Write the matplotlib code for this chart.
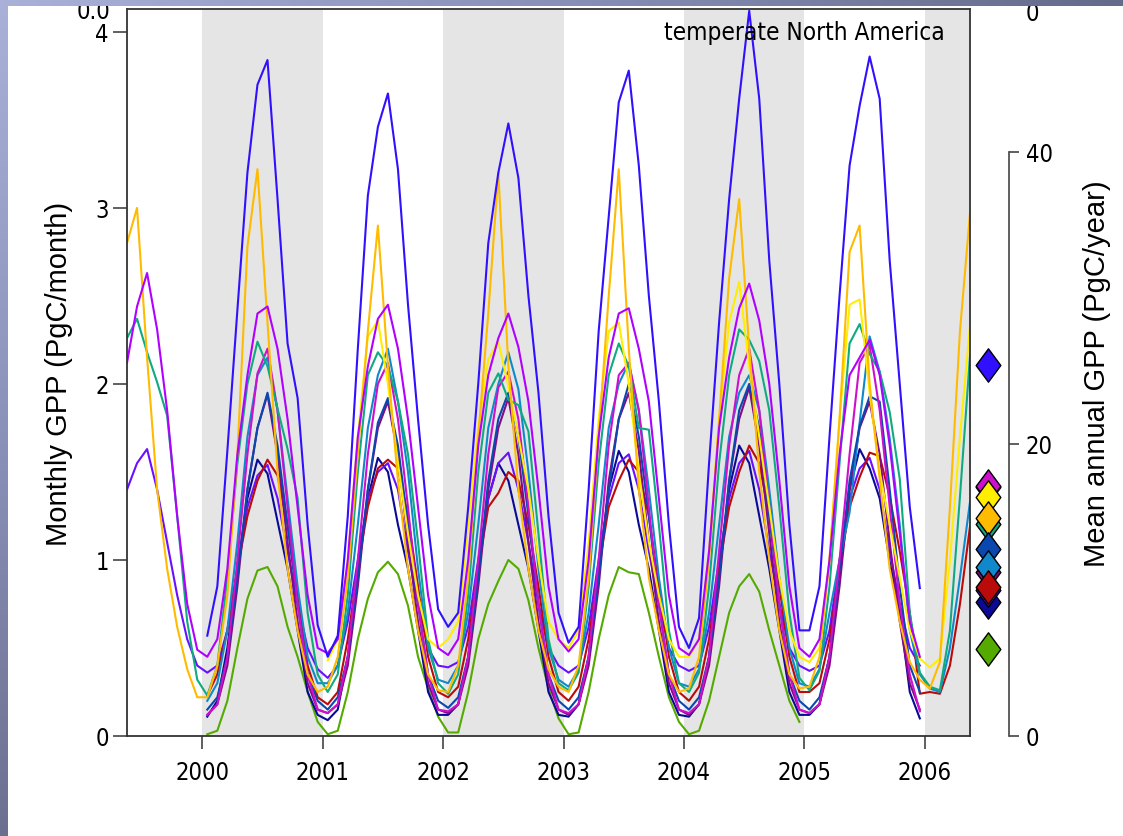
import numpy as np
import matplotlib
matplotlib.use("Agg")
import matplotlib.pyplot as plt
from matplotlib import font_manager
from matplotlib.font_manager import FontProperties
from matplotlib.path import Path

plt.rcParams['font.family'] = ['Liberation Sans', 'DejaVu Sans']

# narrow font for ticks, first one that is installed
narrow_file = None
for key in ['liberationsansnarrow-regular', 'notosans-condensed.ttf',
            'notosans-semicondensed.ttf', 'dejavusanscondensed.ttf']:
    for f in font_manager.fontManager.ttflist:
        if f.fname.lower().replace('_', '').endswith(key) or key in f.fname.lower():
            narrow_file = f.fname
            break
    if narrow_file:
        break
NARROW_SIZE = 17 if (narrow_file and 'dejavu' in narrow_file.lower()) else 19


def tfont(size):
    if narrow_file:
        return FontProperties(fname=narrow_file, size=size)
    return FontProperties(family=['Liberation Sans', 'DejaVu Sans'], size=size - 3)


NA8 = [None] * 8     # May-Dec 1999
NA12 = [None] * 12
NA5 = [None] * 5     # Jan-May 2006

# monthly GPP (PgC/month), May 1999 .. May 2006
blue = (NA8
        + [0.57, 0.85, 1.62, 2.42, 3.20, 3.70, 3.84, 3.05, 2.23, 1.92, 1.20, 0.63]
        + [0.45, 0.57, 1.25, 2.20, 3.07, 3.46, 3.65, 3.22, 2.45, 1.80, 1.20, 0.72]
        + [0.62, 0.70, 1.30, 2.00, 2.80, 3.20, 3.48, 3.17, 2.50, 1.95, 1.25, 0.70]
        + [0.53, 0.62, 1.40, 2.30, 2.95, 3.60, 3.78, 3.24, 2.50, 1.90, 1.20, 0.62]
        + [0.50, 0.67, 1.55, 2.35, 3.05, 3.62, 4.12, 3.62, 2.70, 2.00, 1.20, 0.60]
        + [0.60, 0.85, 1.70, 2.50, 3.24, 3.58, 3.86, 3.62, 2.70, 2.00, 1.30, 0.84]
        + NA5)
violet = ([2.12, 2.44, 2.63, 2.31, 1.85, 1.25, 0.75, 0.49]
          + [0.45, 0.55, 0.95, 1.60, 2.05, 2.40, 2.44, 2.20, 1.80, 1.30, 0.80, 0.50]
          + [0.47, 0.55, 1.00, 1.70, 2.10, 2.37, 2.45, 2.20, 1.80, 1.30, 0.80, 0.50]
          + [0.46, 0.55, 1.00, 1.65, 2.05, 2.26, 2.40, 2.21, 1.90, 1.40, 0.85, 0.55]
          + [0.48, 0.55, 1.00, 1.70, 2.15, 2.40, 2.43, 2.20, 1.90, 1.35, 0.80, 0.50]
          + [0.46, 0.55, 1.05, 1.75, 2.15, 2.43, 2.57, 2.36, 2.00, 1.45, 0.85, 0.50]
          + [0.45, 0.55, 1.00, 1.60, 2.05, 2.15, 2.25, 2.05, 1.65, 1.15, 0.65, 0.45]
          + NA5)
blueviolet = ([1.40, 1.55, 1.63, 1.40, 1.10, 0.80, 0.55, 0.40]
              + [0.36, 0.40, 0.60, 0.95, 1.30, 1.48, 1.54, 1.35, 1.05, 0.75, 0.50, 0.38]
              + [0.33, 0.40, 0.65, 1.00, 1.35, 1.50, 1.55, 1.40, 1.05, 0.75, 0.50, 0.40]
              + [0.39, 0.42, 0.62, 1.00, 1.35, 1.55, 1.61, 1.40, 1.10, 0.75, 0.50, 0.40]
              + [0.36, 0.40, 0.62, 1.00, 1.35, 1.55, 1.60, 1.40, 1.05, 0.75, 0.50, 0.40]
              + [0.37, 0.40, 0.62, 1.00, 1.35, 1.55, 1.62, 1.40, 1.05, 0.75, 0.50, 0.40]
              + [0.37, 0.40, 0.60, 1.00, 1.35, 1.52, 1.58, 1.40, 1.05, 0.75, 0.50, 0.40]
              + NA5)
orange = ([2.80, 3.00, 2.15, 1.40, 0.95, 0.62, 0.38, 0.22]
          + [0.22, 0.40, 0.80, 1.60, 2.78, 3.22, 2.35, 1.50, 0.95, 0.60, 0.35, 0.25]
          + [0.28, 0.45, 0.90, 1.60, 2.30, 2.90, 2.10, 1.45, 0.95, 0.60, 0.35, 0.26]
          + [0.25, 0.40, 0.90, 1.70, 2.40, 3.20, 2.10, 1.40, 0.95, 0.60, 0.38, 0.28]
          + [0.25, 0.40, 0.90, 1.70, 2.50, 3.22, 2.20, 1.40, 0.90, 0.60, 0.35, 0.25]
          + [0.27, 0.45, 1.00, 1.80, 2.60, 3.05, 2.20, 1.50, 1.00, 0.60, 0.35, 0.27]
          + [0.28, 0.45, 1.00, 1.80, 2.75, 2.90, 2.00, 1.46, 0.95, 0.65, 0.42, 0.32]
          + [0.27, 0.42, 1.30, 2.30, 2.97])
teal = ([2.26, 2.37, 2.18, 2.01, 1.82, 1.25, 0.65, 0.32]
        + [0.23, 0.40, 0.90, 1.55, 2.00, 2.24, 2.10, 1.86, 1.63, 1.35, 0.70, 0.35]
        + [0.25, 0.35, 0.80, 1.50, 2.05, 2.18, 2.10, 1.90, 1.60, 1.10, 0.55, 0.30]
        + [0.24, 0.35, 0.80, 1.50, 1.95, 2.06, 1.91, 1.88, 1.73, 1.15, 0.55, 0.30]
        + [0.26, 0.36, 0.85, 1.55, 2.05, 2.23, 2.10, 1.75, 1.74, 1.20, 0.60, 0.30]
        + [0.25, 0.36, 0.85, 1.55, 2.05, 2.31, 2.25, 2.13, 1.85, 1.30, 0.70, 0.33]
        + [0.26, 0.37, 0.85, 1.55, 2.23, 2.34, 2.17, 2.07, 1.84, 1.46, 0.70, 0.36]
        + [0.28, 0.26, 0.60, 1.36, 2.16])
yellow = (NA8 + NA12
          + [0.43, 0.55, 1.00, 1.70, 2.27, 2.36, 2.00, 1.55, 1.15, 0.80, 0.55, 0.50]
          + [0.55, 0.65, 1.20, 1.75, 2.14, 2.24, 1.99, 1.70, 1.40, 1.00, 0.65, 0.55]
          + [0.50, 0.60, 1.10, 1.80, 2.30, 2.35, 2.00, 1.50, 1.10, 0.80, 0.55, 0.45]
          + [0.45, 0.55, 1.05, 1.80, 2.35, 2.58, 2.10, 1.70, 1.30, 0.90, 0.60, 0.45]
          + [0.42, 0.50, 1.00, 1.80, 2.45, 2.48, 1.95, 1.50, 1.20, 0.90, 0.60, 0.44]
          + [0.39, 0.44, 1.00, 1.70, 2.33])
lightblue = (NA8
             + [0.20, 0.30, 0.60, 1.10, 1.70, 2.05, 2.15, 1.85, 1.35, 0.85, 0.45, 0.30]
             + [0.30, 0.40, 0.70, 1.20, 1.75, 2.05, 2.20, 1.90, 1.50, 0.95, 0.50, 0.32]
             + [0.30, 0.40, 0.70, 1.20, 1.75, 2.00, 2.18, 1.97, 1.50, 0.95, 0.50, 0.32]
             + [0.28, 0.38, 0.70, 1.20, 1.75, 2.00, 2.12, 1.85, 1.40, 0.90, 0.50, 0.30]
             + [0.28, 0.38, 0.70, 1.20, 1.70, 1.95, 2.05, 1.85, 1.40, 0.90, 0.50, 0.30]
             + [0.28, 0.38, 0.70, 1.00, 1.27, 1.78, 2.27, 2.07, 1.69, 1.20, 0.60, 0.35]
             + [0.27, 0.25, 0.50, 0.90, 1.33])
cobalt = (NA8
          + [0.15, 0.22, 0.45, 0.90, 1.40, 1.75, 1.95, 1.65, 1.20, 0.75, 0.35, 0.20]
          + [0.15, 0.22, 0.45, 0.90, 1.40, 1.78, 1.92, 1.65, 1.20, 0.75, 0.35, 0.20]
          + [0.16, 0.22, 0.45, 0.90, 1.45, 1.80, 1.95, 1.70, 1.25, 0.75, 0.35, 0.20]
          + [0.15, 0.22, 0.45, 0.90, 1.40, 1.80, 2.00, 1.70, 1.25, 0.75, 0.35, 0.20]
          + [0.15, 0.22, 0.45, 0.90, 1.45, 1.85, 2.00, 1.75, 1.25, 0.75, 0.35, 0.20]
          + [0.15, 0.22, 0.45, 0.95, 1.45, 1.76, 1.93, 1.90, 1.40, 0.85, 0.40, 0.25]
          + NA5)
darkpurple = (NA8
              + [0.12, 0.18, 0.40, 0.85, 1.40, 1.75, 1.94, 1.60, 1.10, 0.65, 0.30, 0.15]
              + [0.13, 0.18, 0.40, 0.85, 1.40, 1.75, 1.90, 1.60, 1.10, 0.65, 0.30, 0.15]
              + [0.13, 0.18, 0.40, 0.85, 1.40, 1.75, 1.92, 1.60, 1.10, 0.65, 0.30, 0.15]
              + [0.12, 0.18, 0.40, 0.85, 1.45, 1.80, 1.95, 1.62, 1.10, 0.65, 0.30, 0.15]
              + [0.12, 0.18, 0.40, 0.85, 1.45, 1.80, 1.98, 1.65, 1.15, 0.65, 0.30, 0.15]
              + [0.13, 0.18, 0.40, 0.85, 1.40, 1.75, 1.90, 1.60, 1.10, 0.65, 0.30, 0.15]
              + NA5)
magenta = (NA8
           + [0.12, 0.18, 0.45, 1.00, 1.60, 2.06, 2.20, 1.85, 1.30, 0.75, 0.35, 0.15]
           + [0.13, 0.18, 0.45, 1.00, 1.60, 2.00, 2.12, 1.80, 1.30, 0.75, 0.35, 0.15]
           + [0.14, 0.18, 0.45, 1.00, 1.60, 1.98, 2.07, 1.80, 1.30, 0.75, 0.35, 0.15]
           + [0.13, 0.18, 0.45, 1.00, 1.65, 2.05, 2.12, 1.85, 1.30, 0.75, 0.35, 0.15]
           + [0.13, 0.18, 0.45, 1.05, 1.65, 2.05, 2.20, 1.85, 1.30, 0.75, 0.35, 0.15]
           + [0.13, 0.18, 0.45, 1.00, 1.60, 2.12, 2.22, 1.85, 1.30, 0.75, 0.35, 0.14]
           + NA5)
red = (NA8
       + [0.23, 0.35, 0.60, 0.95, 1.25, 1.45, 1.57, 1.48, 1.20, 0.80, 0.40, 0.22]
       + [0.18, 0.25, 0.55, 0.95, 1.30, 1.52, 1.57, 1.52, 1.25, 0.85, 0.45, 0.25]
       + [0.22, 0.28, 0.55, 0.95, 1.30, 1.38, 1.50, 1.45, 1.20, 0.85, 0.45, 0.25]
       + [0.20, 0.28, 0.55, 0.95, 1.30, 1.45, 1.57, 1.50, 1.25, 0.85, 0.45, 0.25]
       + [0.20, 0.28, 0.55, 0.95, 1.30, 1.50, 1.65, 1.55, 1.25, 0.85, 0.45, 0.25]
       + [0.25, 0.30, 0.55, 0.95, 1.30, 1.47, 1.61, 1.59, 1.36, 1.05, 0.70, 0.24]
       + [0.25, 0.24, 0.40, 0.75, 1.19])
navy = (NA8
        + [0.11, 0.20, 0.50, 0.95, 1.35, 1.57, 1.49, 1.22, 0.95, 0.60, 0.25, 0.12]
        + [0.09, 0.15, 0.45, 0.95, 1.35, 1.58, 1.50, 1.20, 0.95, 0.60, 0.25, 0.12]
        + [0.12, 0.18, 0.45, 0.95, 1.35, 1.55, 1.45, 1.20, 0.95, 0.60, 0.25, 0.12]
        + [0.11, 0.18, 0.45, 0.95, 1.40, 1.62, 1.50, 1.20, 0.95, 0.60, 0.25, 0.12]
        + [0.11, 0.18, 0.45, 0.95, 1.40, 1.65, 1.55, 1.25, 0.95, 0.60, 0.25, 0.12]
        + [0.12, 0.18, 0.45, 0.95, 1.40, 1.63, 1.52, 1.35, 0.99, 0.70, 0.25, 0.10]
        + NA5)
green = (NA8
         + [0.01, 0.03, 0.20, 0.50, 0.78, 0.94, 0.96, 0.85, 0.62, 0.45, 0.25, 0.08]
         + [0.01, 0.03, 0.25, 0.55, 0.78, 0.93, 0.99, 0.92, 0.74, 0.45, 0.27, 0.11]
         + [0.02, 0.02, 0.25, 0.55, 0.75, 0.88, 1.00, 0.95, 0.77, 0.50, 0.27, 0.10]
         + [0.01, 0.02, 0.25, 0.55, 0.80, 0.96, 0.93, 0.92, 0.70, 0.45, 0.22, 0.08]
         + [0.01, 0.03, 0.20, 0.45, 0.70, 0.85, 0.92, 0.82, 0.60, 0.40, 0.20, 0.08]
         + NA12 + NA5)

# (series, line colour, mean annual GPP PgC/year) in drawing order
models = [
    (green, '#55aa00', 5.96),
    (navy, '#0a0a96', 9.2),
    (blueviolet, '#6a10ff', 10.0),
    (red, '#bb0a0a', 10.2),
    (darkpurple, '#850a85', 11.2),
    (lightblue, '#1088cc', 11.6),
    (cobalt, '#0a48b0', 12.8),
    (magenta, '#cc10cc', 17.1),
    (teal, '#10aa80', 14.5),
    (yellow, '#ffee00', 16.4),
    (orange, '#ffbb00', 14.9),
    (violet, '#b000ff', 17.05),
    (blue, '#3010ff', 25.4),
]
diamond_order = [12, 11, 7, 9, 8, 10, 6, 4, 5, 1, 2, 3, 0]

months = 1999 + (4 + np.arange(85) + 0.5) / 12.0
years = [2000, 2001, 2002, 2003, 2004, 2005, 2006]
shaded = [2000, 2002, 2004, 2006]

fig = plt.figure(figsize=(11.23, 8.37), dpi=100)
ax = fig.add_axes([127 / 1123, 1 - 737 / 837, 843 / 1123, 727 / 837])
ax.set_xlim(1999.375, 2006.375)
ax.set_ylim(0, 4.13)

for y0 in shaded:
    ax.axvspan(y0, y0 + 1, color='#e5e5e5', lw=0, zorder=0)

for vals, col, _ in models:
    v = np.array([np.nan if a is None else a for a in vals], dtype=float)
    ax.plot(months, v, color=col, lw=1.5, zorder=2)

for s in ax.spines.values():
    s.set_color('#333333')
    s.set_linewidth(1.3)
ax.set_xticks(years)
ax.set_xticklabels([str(y) for y in years], fontproperties=tfont(NARROW_SIZE))
ax.set_yticks([0, 1, 2, 3, 4])
ax.set_yticklabels(['0', '1', '2', '3', '4'], fontproperties=tfont(NARROW_SIZE))
ax.tick_params(axis='x', length=9.5, width=1.2, color='#444444', pad=8)
ax.tick_params(axis='y', length=10, width=1.2, color='#444444', pad=3)
ax.set_ylabel('Monthly GPP (PgC/month)', fontsize=21, labelpad=16)
ax.text(0.97, 0.985, 'temperate North America', transform=ax.transAxes,
        ha='right', va='top', fontproperties=tfont(NARROW_SIZE + 0.5))

# right axis: mean annual GPP
ax2 = ax.twinx()
ax2.set_ylim(0, 727 / 14.6)
for k in ['top', 'left', 'bottom']:
    ax2.spines[k].set_visible(False)
ax2.spines['right'].set_position(('outward', 28))
ax2.spines['right'].set_bounds(0, 40)
ax2.spines['right'].set_color('#444444')
ax2.spines['right'].set_linewidth(1.2)
ax2.set_yticks([0, 20, 40])
ax2.set_yticklabels(['0', '20', '40'], fontproperties=tfont(NARROW_SIZE))
ax2.tick_params(axis='y', length=7, width=1.2, color='#444444', pad=5)
ax2.set_ylabel('Mean annual GPP (PgC/year)', fontsize=21, labelpad=22)

dverts = [(0, 1), (0.74, 0), (0, -1), (-0.74, 0), (0, 1)]
dmark = Path(dverts, [Path.MOVETO, Path.LINETO, Path.LINETO, Path.LINETO, Path.CLOSEPOLY])
trans = ax2.get_yaxis_transform()
for i in diamond_order:
    _, col, mean = models[i]
    ax2.plot([1.0215], [mean], marker=dmark, ms=24, mfc=col, mec='black',
             mew=1.0, transform=trans, clip_on=False, zorder=5)

# slide frame bits clipped at the top
fig.text(110 / 1123, 1 - 12 / 837, '0.0', ha='right', va='center', fontproperties=tfont(NARROW_SIZE))
fig.text(1026 / 1123, 1 - 14 / 837, '0', ha='left', va='center', fontproperties=tfont(NARROW_SIZE))

# slide gradient edges
gl = fig.add_axes([0, 0, 8 / 1123, 1], zorder=10)
gl.imshow(np.linspace(0, 1, 256).reshape(-1, 1), cmap=matplotlib.colors.LinearSegmentedColormap.from_list(
    'l', ['#a9b1d9', '#8c93bb', '#6c7090']), aspect='auto', extent=[0, 1, 0, 1])
gl.axis('off')
gt = fig.add_axes([0, 1 - 7 / 837, 1, 7 / 837], zorder=10)
gt.imshow(np.linspace(0, 1, 256).reshape(1, -1), cmap=matplotlib.colors.LinearSegmentedColormap.from_list(
    't', ['#a9b1d9', '#8890b8', '#646a8a']), aspect='auto', extent=[0, 1, 0, 1])
gt.axis('off')

fig.savefig('out.png', dpi=100)
